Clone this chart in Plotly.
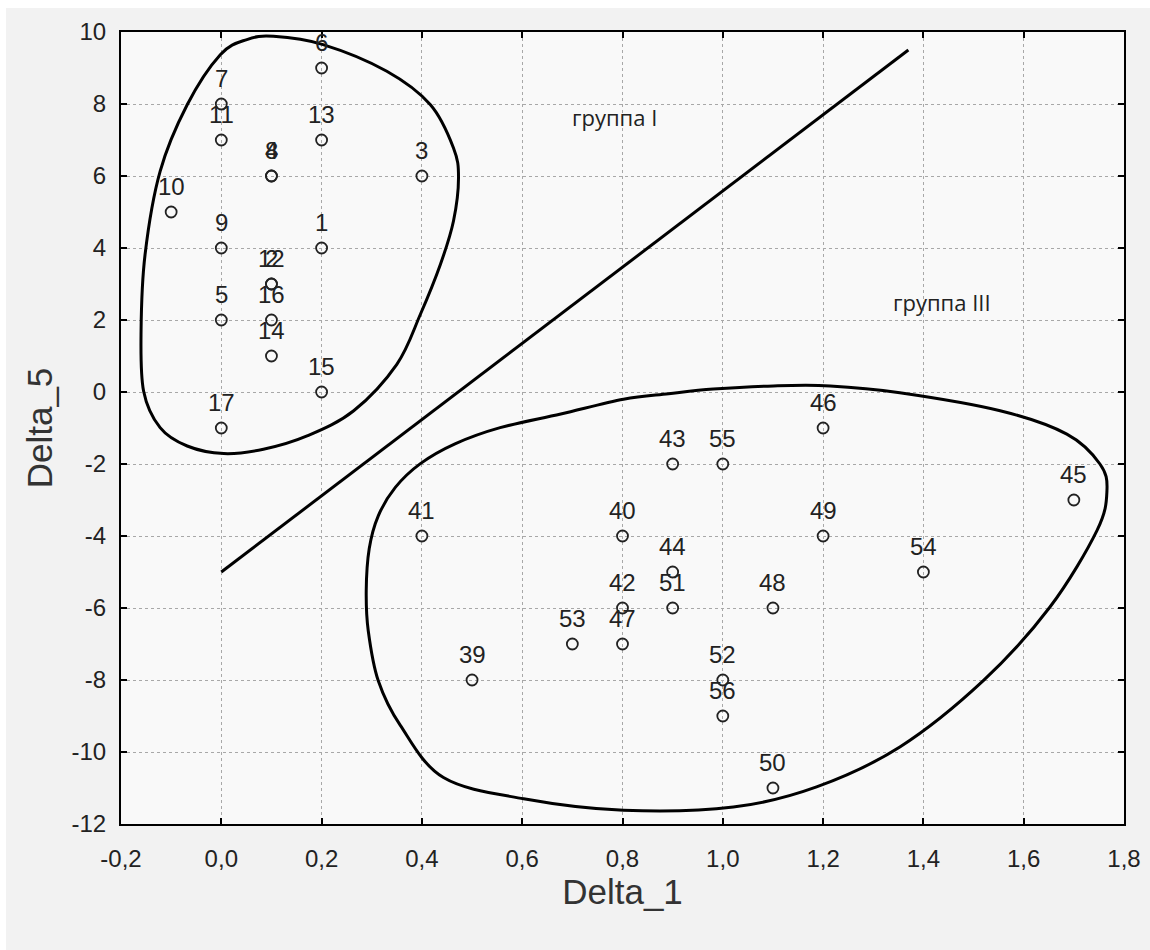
import plotly.graph_objects as go

# ---------------- data ----------------
# group I (points 1..17)
ids_g1 = ["1", "2", "3", "4", "5", "6", "7", "8", "9", "10", "11", "12", "13", "14", "15", "16", "17"]
x_g1 = [0.2, 0.1, 0.4, 0.1, 0.0, 0.2, 0.0, 0.1, 0.0, -0.1, 0.0, 0.1, 0.2, 0.1, 0.2, 0.1, 0.0]
y_g1 = [4, 3, 6, 6, 2, 9, 8, 6, 4, 5, 7, 3, 7, 1, 0, 2, -1]

# group III (points 39..56)
ids_g3 = ["39", "40", "41", "42", "43", "44", "45", "46", "47", "48", "49", "50", "51", "52", "53", "54", "55", "56"]
x_g3 = [0.5, 0.8, 0.4, 0.8, 0.9, 0.9, 1.7, 1.2, 0.8, 1.1, 1.2, 1.1, 0.9, 1.0, 0.7, 1.4, 1.0, 1.0]
y_g3 = [-8, -4, -4, -6, -2, -5, -3, -1, -7, -6, -4, -11, -6, -8, -7, -5, -2, -9]

# separating line
sep_x = [0.0, 1.37]
sep_y = [-5.0, 9.5]

# hand-drawn contour control points (data coordinates)
c1_x = [0.104, 0.203, 0.330, 0.417, 0.463, 0.473, 0.463, 0.437, 0.397, 0.350, 0.264, 0.171,
        0.084, 0.005, -0.068, -0.122, -0.155, -0.160, -0.152, -0.122, -0.068, -0.002, 0.051]
c1_y = [9.88, 9.65, 8.91, 7.98, 6.78, 5.95, 4.75, 3.55, 2.16, 0.77, -0.52, -1.22,
        -1.59, -1.71, -1.50, -0.99, 0.03, 1.69, 3.82, 6.13, 7.98, 9.37, 9.79]

c2_x = [0.556, 0.677, 0.802, 0.892, 0.981, 1.101, 1.214, 1.353, 1.553, 1.686, 1.752, 1.766, 1.746,
        1.652, 1.520, 1.353, 1.187, 1.021, 0.802, 0.603, 0.443, 0.357, 0.313, 0.293, 0.289,
        0.295, 0.313, 0.347, 0.397, 0.466]
c2_y = [-0.99, -0.61, -0.20, -0.05, 0.08, 0.17, 0.17, -0.02, -0.52, -1.17, -2.00, -2.74, -3.85,
        -5.98, -8.01, -9.86, -10.97, -11.53, -11.62, -11.30, -10.71, -9.26, -8.02, -6.63, -5.52,
        -4.35, -3.44, -2.65, -1.99, -1.44]

group_labels = ["группа I", "группа III"]
group_label_x = [0.785, 1.438]
group_label_y = [7.63, 2.49]

x_tickvals = [-0.2, 0.0, 0.2, 0.4, 0.6, 0.8, 1.0, 1.2, 1.4, 1.6, 1.8]
x_ticktext = ["-0,2", "0,0", "0,2", "0,4", "0,6", "0,8", "1,0", "1,2", "1,4", "1,6", "1,8"]
y_tickvals = [10, 8, 6, 4, 2, 0, -2, -4, -6, -8, -10, -12]
y_ticktext = ["10", "8", "6", "4", "2", "0", "-2", "-4", "-6", "-8", "-10", "-12"]


def closed_path(xs, ys):
    """Closed Catmull-Rom curve through the control points, expressed as SVG cubic Beziers."""
    n = len(xs)
    p = "M %.4f,%.4f" % (xs[0], ys[0])
    for i in range(n):
        i0, i1, i2, i3 = (i - 1) % n, i, (i + 1) % n, (i + 2) % n
        c1x = xs[i1] + (xs[i2] - xs[i0]) / 6.0
        c1y = ys[i1] + (ys[i2] - ys[i0]) / 6.0
        c2x = xs[i2] - (xs[i3] - xs[i1]) / 6.0
        c2y = ys[i2] - (ys[i3] - ys[i1]) / 6.0
        p += " C %.4f,%.4f %.4f,%.4f %.4f,%.4f" % (c1x, c1y, c2x, c2y, xs[i2], ys[i2])
    return p + " Z"


fig = go.Figure()

marker_style = dict(symbol="circle-open", size=11, color="#222222", line=dict(width=1.8, color="#222222"))

fig.add_trace(go.Scatter(x=x_g1, y=y_g1, mode="markers", marker=marker_style, showlegend=False))
fig.add_trace(go.Scatter(x=x_g3, y=y_g3, mode="markers", marker=marker_style, showlegend=False))
fig.add_trace(go.Scatter(x=sep_x, y=sep_y, mode="lines", line=dict(color="black", width=3), showlegend=False))

for xs, ys in ((c1_x, c1_y), (c2_x, c2_y)):
    fig.add_shape(type="path", path=closed_path(xs, ys), xref="x", yref="y",
                  line=dict(color="black", width=3), fillcolor="rgba(0,0,0,0)")

# thin white margin strips at the top and left edges of the picture (kept inside the figure)
fig.add_shape(type="rect", xref="paper", yref="paper", x0=-0.1206, x1=1.0259, y0=1.0303, y1=1.0404,
              line=dict(width=0), fillcolor="white", layer="below")
fig.add_shape(type="rect", xref="paper", yref="paper", x0=-0.1206, x1=-0.1147, y0=-0.159, y1=1.0404,
              line=dict(width=0), fillcolor="white", layer="below")

label_font = dict(family="Liberation Sans, Arial, sans-serif", size=24, color="#222222")
for ids, xs, ys in ((ids_g1, x_g1, y_g1), (ids_g3, x_g3, y_g3)):
    for t, xv, yv in zip(ids, xs, ys):
        fig.add_annotation(x=xv, y=yv, text=t, showarrow=False, yshift=26,
                           xanchor="center", yanchor="middle", font=label_font)

for t, xv, yv in zip(group_labels, group_label_x, group_label_y):
    fig.add_annotation(x=xv, y=yv, text=t, showarrow=False, xanchor="center", yanchor="middle",
                       font=dict(family="Open Sans, Noto Sans, sans-serif", size=22, color="#222222"))

axis_common = dict(
    showline=True, linecolor="black", linewidth=2, mirror="ticks",
    ticks="inside", ticklen=6, tickcolor="black", tickwidth=1.5,
    showgrid=True, gridcolor="#a8a8a8", griddash="dot", gridwidth=1,
    zeroline=False, automargin=False,
    tickfont=dict(family="Liberation Sans, Arial, sans-serif", size=24, color="#222222"),
)

fig.update_xaxes(range=[-0.2, 1.8], tickvals=x_tickvals, ticktext=x_ticktext,
                 ticklabelstandoff=12,
                 title=dict(text="Delta_1", standoff=2,
                            font=dict(family="Liberation Sans, Arial, sans-serif", size=35, color="#333333")),
                 **axis_common)
fig.update_yaxes(range=[-12, 10], tickvals=y_tickvals, ticktext=y_ticktext,
                 ticklabelstandoff=8,
                 title=dict(text="Delta_5", standoff=8,
                            font=dict(family="Liberation Sans, Arial, sans-serif", size=35, color="#333333")),
                 **axis_common)

fig.update_layout(
    width=1150, height=950,
    margin=dict(l=121, r=26, t=32, b=126),
    paper_bgcolor="#f2f2f2",
    plot_bgcolor="#f9f9f9",
)

fig.write_html("out.html")
